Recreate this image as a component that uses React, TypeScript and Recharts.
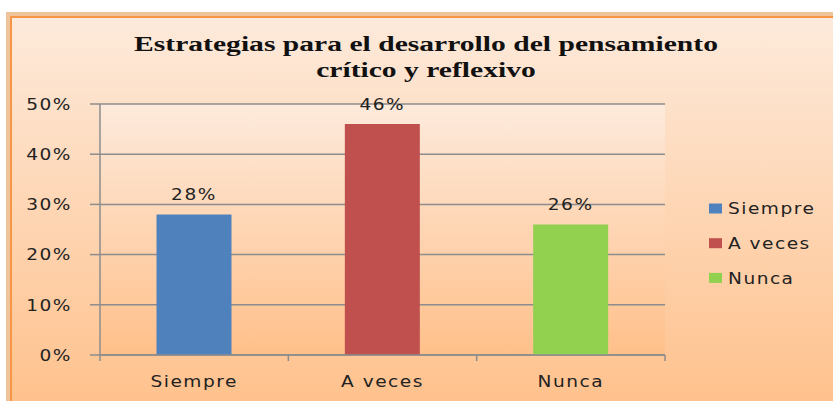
import React from 'react';
import { BarChart, Bar, XAxis, YAxis, CartesianGrid, Cell, LabelList, Legend } from 'recharts';

const categories = ['Siempre', 'A veces', 'Nunca'];
const values = [28, 46, 26];
const colors = ['#4F81BD', '#C0504D', '#92D050'];
const yTicks = [0, 10, 20, 30, 40, 50];
const titleLines = ['Estrategias para el desarrollo del pensamiento', 'crítico y reflexivo'];

const data = categories.map((c, i) => ({ name: c, value: values[i] }));

const SANS = '"DejaVu Sans", Verdana, sans-serif';
const SERIF = '"Liberation Serif", "Times New Roman", serif';
const SX = 1.16;
const LS = 1.3;
const TEXT = '#222';
const AXIS = '#8C8C8C';
const ORANGE = '#F79646';

const YTick = (props: any) => {
  const { x, y, payload } = props;
  return (
    <text
      transform={`translate(${x},${y}) scale(${SX},1)`}
      textAnchor="end"
      dy="0.36em"
      fontFamily={SANS}
      fontSize={16}
      letterSpacing={LS}
      fill={TEXT}
    >
      {payload.value}%
    </text>
  );
};

const XTick = (props: any) => {
  const { x, y, payload, index, visibleTicksCount, width } = props;
  const off = payload && payload.offset ? payload.offset : width / visibleTicksCount / 2;
  const y0 = y - 19;
  return (
    <g>
      <line x1={x - off} x2={x - off} y1={y0} y2={y0 + 6} stroke={AXIS} strokeWidth={1.5} />
      {index === visibleTicksCount - 1 && (
        <line x1={x + off} x2={x + off} y1={y0} y2={y0 + 6} stroke={AXIS} strokeWidth={1.5} />
      )}
      <text
        transform={`translate(${x},${y}) scale(${SX},1)`}
        textAnchor="middle"
        dy="0.8em"
        fontFamily={SANS}
        fontSize={16}
        letterSpacing={LS}
        fill={TEXT}
      >
        {payload.value}
      </text>
    </g>
  );
};

const BarLabel = (props: any) => {
  const { x, y, width, value } = props;
  return (
    <text
      transform={`translate(${x + width / 2},${y - 14}) scale(${SX},1)`}
      textAnchor="middle"
      fontFamily={SANS}
      fontSize={16}
      letterSpacing={LS}
      fill={TEXT}
    >
      {value}%
    </text>
  );
};

const LegendContent = () => (
  <svg width={133} height={110}>
    {categories.map((c, i) => {
      const cy = 18.5 + 34.7 * i;
      return (
        <g key={c}>
          <rect x={9} y={cy - 5} width={13} height={10} fill={colors[i]} />
          <text
            transform={`translate(28,${cy}) scale(${SX},1)`}
            dy="0.36em"
            fontFamily={SANS}
            fontSize={16}
            letterSpacing={LS}
            fill={TEXT}
          >
            {c}
          </text>
        </g>
      );
    })}
  </svg>
);

export default function App() {
  return (
    <div style={{ position: 'absolute', left: 0, top: 0, width: 833, height: 401, overflow: 'hidden', background: '#fff' }}>
      <svg width={833} height={401} style={{ position: 'absolute', left: 0, top: 0 }}>
        <defs>
          <linearGradient id="outerGrad" x1="0" y1="0" x2="0" y2="1">
            <stop offset="0%" stopColor="#FDEADB" />
            <stop offset="100%" stopColor="#FFBE86" />
          </linearGradient>
          <linearGradient id="plotGrad" x1="0" y1="0" x2="0" y2="1">
            <stop offset="0%" stopColor="#FDEADC" />
            <stop offset="100%" stopColor="#FFC08A" />
          </linearGradient>
        </defs>
        <rect x={8} y={14} width={860} height={420} fill="none" stroke="#EFC49A" strokeWidth={4} />
        <rect x={11} y={17} width={860} height={420} fill="url(#outerGrad)" stroke={ORANGE} strokeWidth={2} />
        {titleLines.map((t, i) => (
          <text
            key={i}
            transform={`translate(426,${51 + i * 26}) scale(1.41,1)`}
            textAnchor="middle"
            fontFamily={SERIF}
            fontWeight="bold"
            fontSize={21}
            fill="#111"
          >
            {t}
          </text>
        ))}
      </svg>
      <div style={{ position: 'absolute', left: 0, top: 0 }}>
        <BarChart
          width={833}
          height={401}
          data={data}
          margin={{ top: 104, right: 168, bottom: 0, left: 0 }}
          barCategoryGap="30%"
        >
          <CartesianGrid vertical={false} stroke={AXIS} strokeWidth={1.5} fill="url(#plotGrad)" fillOpacity={1} />
          <XAxis
            dataKey="name"
            height={46}
            axisLine={{ stroke: AXIS, strokeWidth: 1.5 }}
            tickLine={false}
            tickSize={0}
            tickMargin={19}
            tick={<XTick />}
            interval={0}
          />
          <XAxis xAxisId="top" dataKey="name" orientation="top" height={0} tick={false} tickLine={false} axisLine={{ stroke: ORANGE, strokeWidth: 1.5 }} />
          <YAxis
            width={100}
            domain={[0, 50]}
            ticks={yTicks}
            interval={0}
            axisLine={{ stroke: AXIS, strokeWidth: 1.5 }}
            tickLine={{ stroke: AXIS, strokeWidth: 1.5 }}
            tickSize={10}
            tickMargin={18}
            tick={<YTick />}
          />
          <YAxis yAxisId="right" orientation="right" width={0} domain={[0, 50]} tick={false} tickLine={false} axisLine={{ stroke: ORANGE, strokeWidth: 1.5 }} />
          <Legend
            layout="horizontal"
            verticalAlign="middle"
            align="center"
            wrapperStyle={{ position: 'absolute', left: 700, top: 190, width: 133, height: 110 }}
            content={<LegendContent />}
          />
          <Bar dataKey="value" isAnimationActive={false}>
            {data.map((d, i) => (
              <Cell key={d.name} fill={colors[i]} />
            ))}
            <LabelList dataKey="value" content={<BarLabel />} />
          </Bar>
        </BarChart>
      </div>
    </div>
  );
}
